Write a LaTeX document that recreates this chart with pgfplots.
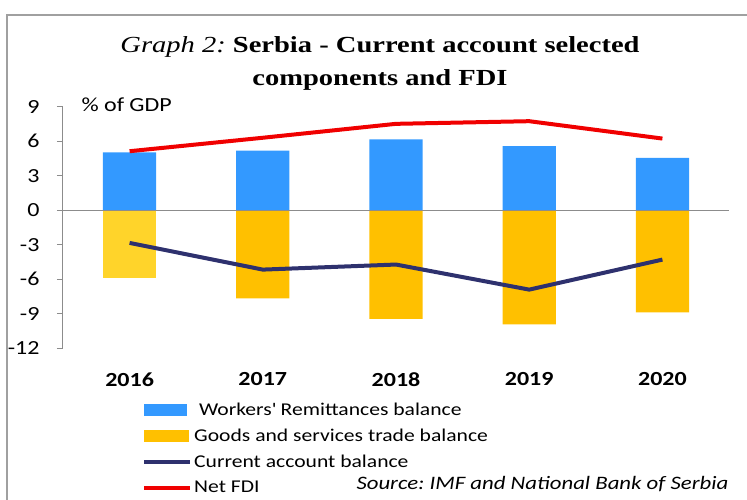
\documentclass[border=0pt]{standalone}
\usepackage{pgfplots}
\pgfplotsset{compat=1.18}
\usepackage{fontspec}
\setmainfont[FakeStretch=1.2]{Carlito}
\newfontfamily\titlefont[FakeStretch=1.24]{Liberation Serif}

\definecolor{remblue}{RGB}{51,153,255}
\definecolor{gsyellow}{RGB}{255,192,0}
\definecolor{gsyellowlt}{RGB}{255,212,42}
\definecolor{canavy}{RGB}{46,49,110}
\definecolor{fdired}{RGB}{240,0,0}
\definecolor{axgray}{RGB}{140,140,140}
\definecolor{framegray}{RGB}{160,160,160}

\begin{document}
\frenchspacing
\begin{tikzpicture}[x=1bp,y=1bp]
\begin{axis}[
  scale only axis, width=666bp, height=241.6bp,
  xmin=-0.5, xmax=4.5, ymin=-12, ymax=9,
  axis lines*=left,
  x axis line style={draw=none},
  y axis line style={axgray, line width=1bp},
  xtick={0,1,2,3,4},
  xticklabels={2016,2017,2018,2019,2020},
  xtick style={draw=none},
  xticklabel style={font=\bfseries\fontsize{20bp}{24bp}\selectfont, yshift=-15bp},
  ytick={-12,-9,-6,-3,0,3,6,9},
  yticklabels={-12,-9,-6,-3,0,3,6,9},
  yticklabel style={font=\fontsize{20bp}{24bp}\selectfont, xshift=-14bp},
  ytick style={axgray, line width=1bp},
  tick align=outside,
  major tick length=6bp,
  legend style={at={(0.1186,-0.218)}, anchor=north west, draw=none, fill=none,
    font=\fontsize{18bp}{20bp}\selectfont, row sep=8bp, inner sep=0pt,
    nodes={inner sep=2bp}},
  legend cell align=left,
]
\coordinate (O) at (rel axis cs:0,0);
\addplot[ybar, bar width=0.4, bar shift=0pt, fill=remblue, draw=none,
  legend image code/.code={\fill[remblue] (0bp,-6bp) rectangle (43bp,6bp);}]
  coordinates {(0,5.04) (1,5.19) (2,6.15) (3,5.57) (4,4.56)};
\addlegendentry{\ Workers\textquotesingle{} Remittances balance}
\addplot[ybar, bar width=0.4, bar shift=0pt, fill=gsyellow, draw=none,
  legend image code/.code={\fill[gsyellow] (0bp,-6bp) rectangle (45bp,6bp);}]
  coordinates {(1,-7.65) (2,-9.45) (3,-9.91) (4,-8.87)};
\addlegendentry{Goods and services trade balance}
\addplot[ybar, bar width=0.4, bar shift=0pt, fill=gsyellowlt, draw=none, forget plot]
  coordinates {(0,-5.91)};
\draw[axgray, line width=1.2bp] (axis cs:-0.5,0) -- (axis cs:4.5,0);
\addplot[canavy, line width=4bp, mark=none,
  legend image code/.code={\draw[canavy, line width=4bp] (0bp,0bp) -- (46bp,0bp);}]
  coordinates {(0,-2.84) (1,-5.16) (2,-4.72) (3,-6.90) (4,-4.29)};
\addlegendentry{Current account balance}
\addplot[fdired, line width=4bp, mark=none,
  legend image code/.code={\draw[fdired, line width=4bp] (0bp,0bp) -- (46bp,0bp);}]
  coordinates {(0,5.13) (1,6.30) (2,7.51) (3,7.74) (4,6.23)};
\addlegendentry{Net FDI}
\end{axis}
\begin{scope}[shift={(O)}]
\draw[framegray, line width=1.8bp] (-56,-160) -- (-56,333.3) -- (700,333.3);
\node[font=\titlefont\fontsize{23bp}{33bp}\selectfont, align=center] at (317,284.8)
  {\textit{Graph 2:} \textbf{Serbia - Current account selected}\\\textbf{components and FDI}};
\node[anchor=base west, font=\fontsize{20bp}{24bp}\selectfont] at (15,236.3) {\% of GDP};
\node[anchor=base west, font=\itshape\fontsize{19bp}{23bp}\selectfont] at (290,-141.7) {Source: IMF and National Bank of Serbia};
\pgfresetboundingbox
\useasboundingbox (-63,-151.7) rectangle (684,348.3);
\end{scope}
\end{tikzpicture}
\end{document}
